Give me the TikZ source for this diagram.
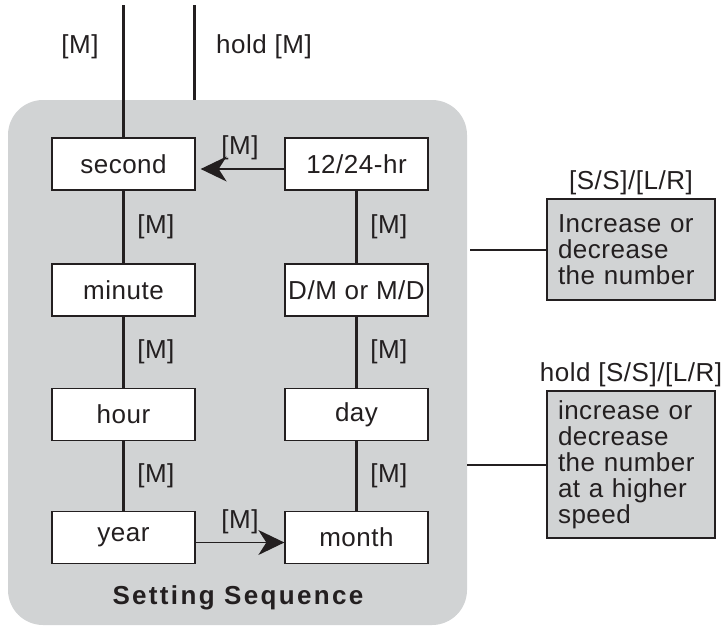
\documentclass[tikz,border=0pt]{standalone}
\usepackage{fontspec}
\setmainfont{Liberation Sans}[LetterSpace=2]
\newfontfamily\seqfont{Liberation Sans}[LetterSpace=9]
\usepackage{tikz}
\usetikzlibrary{arrows.meta,positioning}
\definecolor{panelgray}{HTML}{D1D3D4}
\definecolor{ink}{HTML}{231F20}

\begin{document}
\begin{tikzpicture}[x=1pt,y=-1pt,
		every node/.style={font=\fontsize{26}{26}\selectfont, text=ink},
		panel/.style={fill=panelgray, rounded corners=35pt, minimum width=459pt, minimum height=525pt, inner sep=0pt},
		field/.style={draw=ink, line width=1.3pt, fill=white, minimum width=143pt, minimum height=52pt, inner sep=0pt},
		note/.style={draw=ink, line width=1.3pt, fill=panelgray, text width=146pt, inner xsep=11pt, inner ysep=0pt, align=left},
		link/.style={draw=ink, line width=3pt},
		wire/.style={draw=ink, line width=2pt},
		goto/.style={draw=ink, line width=1.3pt, -{Stealth[length=26pt,width=25pt,inset=8pt]}} % grosse fleche pleine
		]
		\useasboundingbox (0,0) rectangle (725,627);
		
		% Le fond gris
		\node[panel] (panel) at (237.5,362.5) {};
		\node[font=\seqfont\fontsize{26}{26}\selectfont\bfseries] (title) at (238,598) {Setting Sequence};
		
		% Les champs
		\node[field] (second) at (123.5,164) {second};
		\node[field] (minute) at (123.5,290) {minute};
		\node[field] (hour) at (123.5,414.5) {hour};
		\node[field] (year) at (123.5,537.5) {year};
		\node[field] (format) at (356.5,164) {12/24-hr};
		\node[field] (order) at (356.5,290) {D/M or M/D};
		\node[field] (day) at (356.5,414.5) {day};
		\node[field] (month) at (356.5,537.5) {month};
		
		% Les entrees en haut
		\coordinate (mtop) at (123.5,5);
		\coordinate (holdtop) at (194,5);
		\draw[link] (mtop) -- (second.north);
		\draw[link] (holdtop) -- (holdtop |- panel.north);
		\node (mlab) at (80,47) {[M]};
		\node (holdlab) at (264,47) {hold [M]};
		
		% La sequence
		\draw[link] (second) -- node[midway, right=9pt] {[M]} (minute);
		\draw[link] (minute) -- node[midway, right=9pt] {[M]} (hour);
		\draw[link] (hour) -- node[midway, right=9pt] {[M]} (year);
		\draw[goto] ([yshift=-5pt]year.east) -- node[midway, above=5pt] {[M]} ([yshift=-5pt]year.east -| month.west);
		\draw[link] (month) -- node[midway, right=9pt] {[M]} (day);
		\draw[link] (day) -- node[midway, right=9pt] {[M]} (order);
		\draw[link] (order) -- node[midway, right=9pt] {[M]} (format);
		\draw[goto, shorten >=5pt] ([yshift=-5pt]format.west) -- node[midway, above=5pt] {[M]} ([yshift=-5pt]format.west -| second.east);
		
		% Les boutons a droite
		\node[note, minimum height=101pt] (press) at (631,249.5) {Increase or\\decrease\\the number};
		\node[note, minimum height=147pt] (longpress) at (631,464.5) {increase or\\decrease\\the number\\at a higher\\speed};
		\node[above=0pt of press] (presslab) {[S/S]/[L/R]};
		\node[above=0pt of longpress] (longpresslab) {hold [S/S]/[L/R]};
		\coordinate (tap) at (470,249.5);
		\coordinate (hold) at (467,464.5);
		\draw[wire] (tap) -- (press.west);
		\draw[wire] (hold) -- (longpress.west);
	\end{tikzpicture}
\end{document}
